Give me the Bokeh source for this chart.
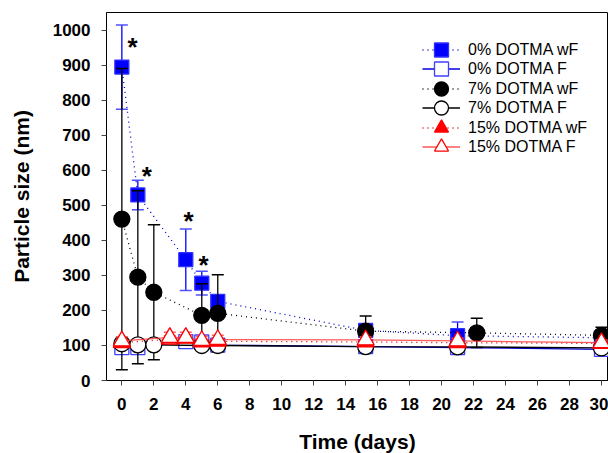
from bokeh.plotting import figure
from bokeh.models import Range1d, FixedTicker, Legend, LegendItem
from bokeh.core.properties import value
from bokeh.embed import file_html
from bokeh.resources import INLINE

# ---- data ----
x_ticks = list(range(0, 31, 2))
y_ticks = list(range(0, 1001, 100))

days_0wF = [0, 1, 4, 5, 6, 15.25, 21, 30]
val_0wF = [895, 530, 345, 278, 226, 143, 128, 122]
err_0wF = [120, 42, 88, 34, 0, 0, 39, 0]

days_0F = [0, 1, 4, 5, 6, 15.25, 21, 30]
val_0F = [94, 94, 111, 110, 101, 97, 94, 89]
err_0F = [9, 8, 10, 8, 6, 5, 5, 5]

days_7wF = [0, 1, 2, 5, 6, 15.25, 22.2, 30]
val_7wF = [461, 295, 252, 186, 192, 141, 136, 129]
err_7wF = [430, 247, 193, 90, 110, 43, 42, 23]

days_7F = [0, 1, 2, 5, 6, 15.25, 21, 30]
val_7F = [105, 102, 102, 100, 100, 97, 96, 93]
err_7F = [6, 5, 5, 5, 5, 5, 5, 5]

days_15wF = [0, 3, 4, 5, 6, 15.25, 21, 30]
val_15wF = [108, 118, 120, 110, 112, 110, 108, 106]
err_15wF = [8, 10, 10, 8, 8, 6, 6, 6]

days_15F = [0, 3, 4, 5, 6, 15.25, 21, 30]
val_15F = [113, 123, 123, 114, 117, 116, 113, 108]
err_15F = [12, 15, 15, 12, 12, 8, 8, 8]

star_days = [0.67, 1.56, 4.17, 5.11]
star_vals = [952, 585, 455, 329]

FONT = "Liberation Sans"

p = figure(frame_width=502, frame_height=368,
           x_range=Range1d(-0.96, 30.44), y_range=Range1d(0, 1051),
           output_backend="svg", toolbar_location=None,
           min_border_left=106, min_border_right=0, min_border_top=12,
           min_border_bottom=73,
           x_axis_label="Time (days)", y_axis_label="Particle size (nm)")

p.grid.visible = False
p.outline_line_color = "black"
p.background_fill_color = "white"

p.xaxis.ticker = FixedTicker(ticks=x_ticks)
p.yaxis.ticker = FixedTicker(ticks=y_ticks)
for ax in (p.xaxis[0], p.yaxis[0]):
    ax.major_label_text_font = FONT
    ax.major_label_text_font_style = "bold"
    ax.major_label_text_font_size = "17px"
    ax.major_label_text_color = "black"
    ax.axis_label_text_font = FONT
    ax.axis_label_text_font_style = "bold"
    ax.axis_label_text_font_size = "21px"
    ax.axis_label_text_color = "black"
    ax.major_tick_in = 0
    ax.major_tick_out = 5
    ax.minor_tick_in = 0
    ax.minor_tick_out = 0
    ax.major_tick_line_color = "#444444"
    ax.axis_line_color = "black"
p.xaxis.major_label_standoff = 12
p.yaxis.major_label_standoff = 11
p.xaxis.axis_label_standoff = 17
p.yaxis.axis_label_standoff = 17


def series(days, vals, errs, line_color, dash, marker, size, fill, edge,
           err_color, cap_color, line_alpha=1.0):
    lo = [v - e for v, e in zip(vals, errs)]
    hi = [v + e for v, e in zip(vals, errs)]
    ln = p.line(days, vals, line_color=line_color, line_width=1.3,
                line_dash=dash, line_alpha=line_alpha)
    p.segment(x0=days, y0=lo, x1=days, y1=hi, line_color=err_color, line_width=1.3)
    p.scatter(days, hi, marker="dash", size=12, line_color=cap_color, line_width=1.5)
    p.scatter(days, lo, marker="dash", size=12, line_color=cap_color, line_width=1.5)
    mk = p.scatter(days, vals, marker=marker, size=size, fill_color=fill,
                   line_color=edge, line_width=1.3)
    return ln, mk


r0F = series(days_0F, val_0F, err_0F, "#0000dd", "solid", "square", 14,
             "white", "#4040ff", "#4040ff", "#6060ff")
r0wF = series(days_0wF, val_0wF, err_0wF, "#0000cc", "1 4", "square", 14,
              "#0000ff", "#3030ff", "#0000ff", "#5050ff")
r7wF = series(days_7wF, val_7wF, err_7wF, "black", "1 4", "circle", 16,
              "black", "black", "black", "black")
r7F = series(days_7F, val_7F, err_7F, "black", "solid", "circle", 16,
             "white", "black", "black", "black")
r15wF = series(days_15wF, val_15wF, err_15wF, "#cc0000", "1 4", "triangle", 17,
               "#ff0000", "#ff0000", "#ff6060", "#ff6060")
r15F = series(days_15F, val_15F, err_15F, "#ff3030", "solid", "triangle", 17,
              "white", "#ff0000", "#ff6060", "#ff6060", line_alpha=0.8)

p.text(star_days, star_vals, text=["*"] * len(star_days),
       text_font=value(FONT), text_font_style="bold", text_font_size="26px",
       text_align="center", text_baseline="alphabetic", text_color="black")

labels = ["0% DOTMA wF", "0% DOTMA F", "7% DOTMA wF", "7% DOTMA F",
          "15% DOTMA wF", "15% DOTMA F"]
groups = [r0wF, r0F, r7wF, r7F, r15wF, r15F]
items = [LegendItem(label=lab, renderers=list(g)) for lab, g in zip(labels, groups)]

legend_style = dict(border_line_color=None, background_fill_alpha=0,
                    padding=0, margin=0, spacing=4,
                    glyph_width=38, glyph_height=35, label_height=20,
                    label_standoff=8, label_text_font=FONT,
                    label_text_font_size="16px", label_text_color="black")
# two interleaved legends give the tight row pitch with large markers
legend_a = Legend(items=items[0::2], location=(316, 235), **legend_style)
legend_b = Legend(items=items[1::2], location=(316, 216), **legend_style)
p.add_layout(legend_a)
p.add_layout(legend_b)

open("out.html", "w").write(file_html(p, INLINE))
